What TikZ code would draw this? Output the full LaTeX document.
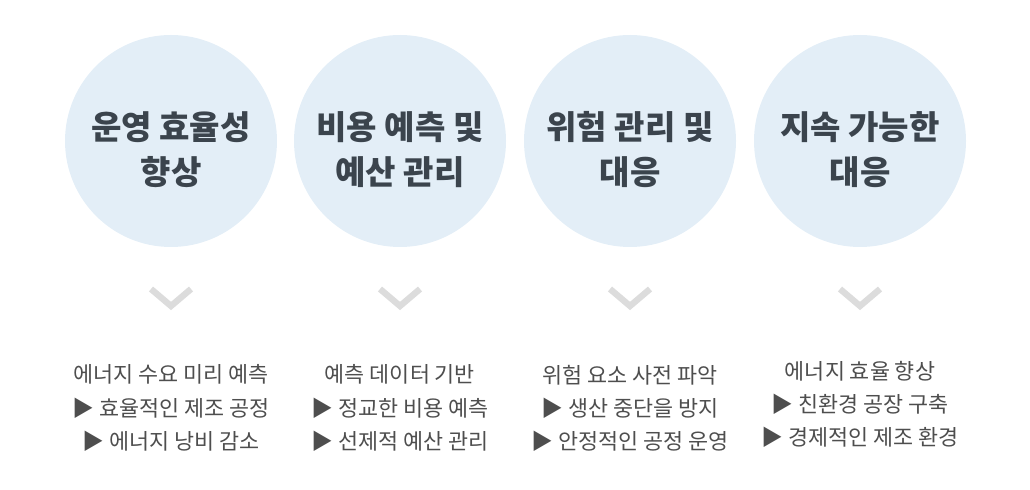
\documentclass[tikz,border=0pt]{standalone}
\usepackage{fontspec}
\newfontfamily\cjk{Noto Sans CJK KR}
\definecolor{circfill}{HTML}{E3EEF7}
\definecolor{titletext}{HTML}{3B444D}
\definecolor{desctext}{HTML}{4E4E4E}
\definecolor{chevgray}{HTML}{DCDCDC}
\begin{document}
\begin{tikzpicture}[x=0.025cm, y=-0.025cm,
  circ/.style={circle, fill=circfill, minimum size=212*0.025cm, inner sep=0pt},
  title/.style={align=center, text=titletext, font=\cjk\bfseries\fontsize{23.5}{32}\selectfont},
  desc/.style={align=center, text=desctext, font=\cjk\fontsize{15.5}{23.5}\selectfont},
  chev/.style={draw=chevgray, line width=4.5pt, line cap=butt, line join=miter}]
  % Canvas
  \useasboundingbox (0,0) rectangle (1030,490);

  % Circles
  \node[circ] (circ1) at (171,141) {};
  \node[circ] (circ2) at (400,141) {};
  \node[circ] (circ3) at (630,141) {};
  \node[circ] (circ4) at (860,141) {};

  % Titles
  \node[title] (title1) at (171,150) {운영 효율성\\향상};
  \node[title] (title2) at (400,150) {비용 예측 및\\예산 관리};
  \node[title] (title3) at (630,150) {위험 관리 및\\대응};
  \node[title] (title4) at (860,150) {지속 가능한\\대응};

  % Chevrons
  \draw[chev] (151,289) -- (171,306) -- (191,289);
  \draw[chev] (380,289) -- (400,306) -- (420,289);
  \draw[chev] (610,289) -- (630,306) -- (650,289);
  \draw[chev] (840,289) -- (860,306) -- (880,289);

  % Descriptions
  \node[desc] (desc1) at (171,408) {에너지 수요 미리 예측\\▶ 효율적인 제조 공정\\▶ 에너지 낭비 감소};
  \node[desc] (desc2) at (400,408) {예측 데이터 기반\\▶ 정교한 비용 예측\\▶ 선제적 예산 관리};
  \node[desc] (desc3) at (630,408) {위험 요소 사전 파악\\▶ 생산 중단을 방지\\▶ 안정적인 공정 운영};
  \node[desc] (desc4) at (860,404) {에너지 효율 향상\\▶ 친환경 공장 구축\\▶ 경제적인 제조 환경};
\end{tikzpicture}
\end{document}
